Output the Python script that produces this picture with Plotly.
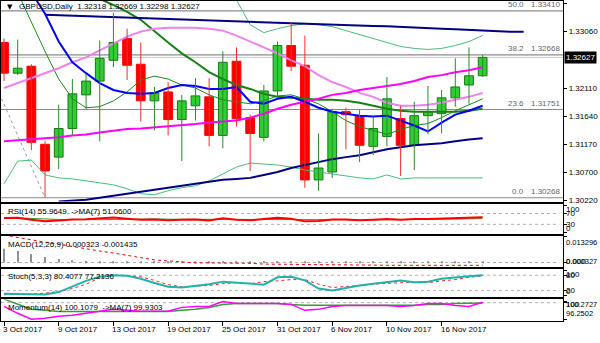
import plotly.graph_objects as go

W, H = 600, 343

# ---------------- data ----------------
date_idx = [0, 4, 8, 12, 16, 20, 24, 28, 32]
date_labels = ["3 Oct 2017", "9 Oct 2017", "13 Oct 2017", "19 Oct 2017", "25 Oct 2017",
               "31 Oct 2017", "6 Nov 2017", "10 Nov 2017", "16 Nov 2017"]

opens = [1.32877, 1.32362, 1.32479, 1.31166, 1.30951, 1.31432, 1.31997, 1.32229, 1.32578, 1.32944,
         1.32512, 1.31897, 1.32047, 1.31582, 1.31814, 1.31964, 1.31316, 1.32562, 1.31615, 1.31283,
         1.32063, 1.32827, 1.32495, 1.30568, 1.30701, 1.31715, 1.31648, 1.31133, 1.31299, 1.31598,
         1.31150, 1.31648, 1.31681, 1.31947, 1.32163, 1.32318]
highs = [1.32944, 1.32927, 1.32512, 1.31216, 1.31831, 1.32263, 1.32346, 1.32911, 1.33376, 1.33110,
         1.32877, 1.32130, 1.32213, 1.31997, 1.32279, 1.32279, 1.32728, 1.32794, 1.31665, 1.32163,
         1.32894, 1.33210, 1.32994, 1.31349, 1.31764, 1.31781, 1.31748, 1.31632, 1.32296, 1.31814,
         1.31881, 1.32146, 1.32080, 1.32612, 1.32794, 1.32669]
lows = [1.32229, 1.32329, 1.31067, 1.30268, 1.30751, 1.31316, 1.31748, 1.31216, 1.32462, 1.32246,
        1.31548, 1.31399, 1.31316, 1.30884, 1.31565, 1.31133, 1.31100, 1.31465, 1.30718, 1.31216,
        1.31980, 1.32396, 1.30436, 1.30386, 1.30602, 1.31083, 1.30867, 1.30984, 1.31133, 1.30635,
        1.30735, 1.31333, 1.31349, 1.31798, 1.31847, 1.32298]
closes = [1.32362, 1.32445, 1.31200, 1.30718, 1.31432, 1.32014, 1.32229, 1.32612, 1.32877, 1.32495,
          1.31897, 1.32030, 1.31582, 1.31897, 1.31980, 1.31316, 1.32545, 1.31598, 1.31349, 1.32063,
          1.32827, 1.32479, 1.30568, 1.30768, 1.31715, 1.31665, 1.31150, 1.31432, 1.31930, 1.31150,
          1.31648, 1.31715, 1.31947, 1.32130, 1.32318, 1.32627]

ma_fast_blue = [1.34505, 1.34090, 1.33724, 1.33359, 1.32894, 1.32545, 1.32362, 1.32196, 1.32080, 1.32030,
                1.32014, 1.32030, 1.32113, 1.32163, 1.32146, 1.32097, 1.32097, 1.32130, 1.31881, 1.31847,
                1.31931, 1.31964, 1.31881, 1.31781, 1.31715, 1.31681, 1.31648, 1.31632, 1.31648, 1.31565,
                1.31482, 1.31382, 1.31532, 1.31665, 1.31731, 1.31814]
ma_thin_green = [1.34206, 1.33708, 1.33226, 1.32728, 1.32263, 1.31931, 1.31781, 1.31798, 1.31897, 1.32047,
                 1.32246, 1.32313, 1.32263, 1.32163, 1.32113, 1.31997, 1.31914, 1.31881, 1.31847, 1.31897,
                 1.31980, 1.31997, 1.31931, 1.31847, 1.31715, 1.31565, 1.31465, 1.31399, 1.31333, 1.31416,
                 1.31482, 1.31515, 1.31615, 1.31731, 1.31831, 1.31931]
bb_mid = [None, None, None, None, None, 1.33841, 1.33724, 1.33608, 1.33508, 1.33392,
          1.33259, 1.33060, 1.32877, 1.32695, 1.32545, 1.32379, 1.32263, 1.32163, 1.32097, 1.32014,
          1.31964, 1.31947, 1.31931, 1.31914, 1.31914, 1.31897, 1.31864, 1.31814, 1.31764, 1.31731,
          1.31715, 1.31715, 1.31715, 1.31715, 1.31731, 1.31764]
bb_upper = [None] * 14 + [1.34588, 1.34256, 1.33924, 1.33592, 1.33176, 1.33043, 1.33110, 1.33160,
                          1.33193, 1.33176, 1.33143, 1.33077, 1.33010, 1.32944, 1.32877, 1.32811,
                          1.32778, 1.32761, 1.32778, 1.32827, 1.32894, 1.32994]
bb_lower = [1.30502, 1.30884, 1.30901, 1.30652, 1.30602, 1.30585, 1.30552, 1.30519, 1.30485, 1.30419,
            1.30336, 1.30319, 1.30386, 1.30436, 1.30469, 1.30552, 1.30668, 1.30784, 1.30851, 1.30834,
            1.30818, 1.30784, 1.30735, 1.30701, 1.30668, 1.30635, 1.30602, 1.30585, 1.30652, 1.30585,
            1.30602, 1.30602, 1.30602, 1.30602, 1.30602, 1.30602]
ma_violet = [1.32113, 1.32196, 1.32279, 1.32362, 1.32445, 1.32545, 1.32628, 1.32744, 1.32861, 1.32977,
             1.33060, 1.33110, 1.33126, 1.33126, 1.33126, 1.33110, 1.33077, 1.32994, 1.32894, 1.32794,
             1.32695, 1.32578, 1.32479, 1.32329, 1.32213, 1.32130, 1.32030, 1.31964, 1.31864, 1.31814,
             1.31814, 1.31831, 1.31864, 1.31914, 1.31964, 1.32030]
ma_magenta = [1.31216, 1.31233, 1.31250, 1.31266, 1.31283, 1.31316, 1.31333, 1.31366, 1.31399, 1.31424,
              1.31432, 1.31449, 1.31465, 1.31482, 1.31507, 1.31532, 1.31548, 1.31565, 1.31615, 1.31681,
              1.31764, 1.31831, 1.31881, 1.31931, 1.31997, 1.32030, 1.32080, 1.32113, 1.32146, 1.32180,
              1.32229, 1.32296, 1.32329, 1.32379, 1.32412, 1.32462]
ma_navy_low = [None, None, None, None, 1.30203, 1.30220, 1.30236, 1.30270, 1.30303, 1.30336,
               1.30369, 1.30402, 1.30436, 1.30469, 1.30502, 1.30535, 1.30569, 1.30585, 1.30602, 1.30652,
               1.30701, 1.30768, 1.30818, 1.30867, 1.30917, 1.30951, 1.30984, 1.31034, 1.31083, 1.31117,
               1.31150, 1.31166, 1.31183, 1.31216, 1.31249, 1.31266]
# shifted moving average (drawn 3 bars forward)
ma_navy_top_shift = 3
ma_navy_top = [1.33342, 1.33334, 1.33326, 1.33317, 1.33309, 1.33301, 1.33293, 1.33284, 1.33276, 1.33268,
               1.33259, 1.33251, 1.33243, 1.33234, 1.33226, 1.33218, 1.33210, 1.33201, 1.33193, 1.33188,
               1.33183, 1.33176, 1.33170, 1.33163, 1.33156, 1.33151, 1.33143, 1.33135, 1.33126, 1.33110,
               1.33098, 1.33088, 1.33077, 1.33068, 1.33060, 1.33060]

fib_names = ["0.0", "23.6", "38.2", "50.0"]
fib_prices = [1.30268, 1.31751, 1.32668, 1.33410]
fib_anchor_hi = (-9, 1.36552)
fib_anchor_lo = (3, 1.30268)

price_ticks = [1.33530, 1.33060, 1.32110, 1.31640, 1.31170, 1.30700, 1.30220]

rsi = [53, 54, 47, 41, 44, 48, 49, 52, 55, 51, 47, 48, 45, 47, 48, 44, 52, 47, 45, 50,
       54, 51, 41, 42, 48, 48, 45, 47, 50, 47, 50, 50, 51, 53, 54, 55.96]
rsi_ma = [55, 54, 52, 50, 48, 47, 47, 47, 48, 49, 50, 50, 49, 49, 48, 47, 48, 48, 47, 47,
          48, 49, 48, 47, 47, 47, 46, 46, 46, 47, 47, 48, 49, 50, 51, 51.06]

macd_main = [0.0070, 0.0058, 0.0043, 0.0028, 0.0018, 0.0012, 0.0008, 0.0006, 0.0005, 0.0004,
             0.0004, 0.0003, 0.0003, 0.0003, 0.0004, 0.0004, 0.0005, 0.0004, 0.0004, 0.0004,
             0.0005, 0.0006, 0.0005, 0.0004, 0.0005, 0.0006, 0.0005, 0.0006, 0.0004, 0.0004,
             0.0005, 0.0004, 0.0005, 0.0004, 0.0004, 0.000323]
macd_signal = [0.0138, 0.0126, 0.0113, 0.0103, 0.0093, 0.0081, 0.0068, 0.0058, 0.0048, 0.0036,
               0.0023, 0.0013, 0.0008, 0.0003, -0.0002, -0.0002, -0.0002, -0.0003, -0.0004, -0.0008,
               -0.0009, -0.0010, -0.0011, -0.0012, -0.0012, -0.0013, -0.0013, -0.0013, -0.0014, -0.0014,
               -0.0014, -0.0014, -0.0014, -0.0014, -0.0014, -0.001435]

stoch_main = [8, 7, 5, 5, 14, 35, 58, 74, 80, 78, 66, 50, 35, 32, 38, 45, 55, 51, 47, 43,
              72, 74, 60, 28, 20, 30, 40, 47, 53, 59, 53, 55, 66, 72, 76, 80.41]
stoch_sig = [4, 5, 6, 10, 16, 28, 45, 70, 80, 78, 74, 60, 43, 35, 38, 40, 47, 51, 47, 55,
             58, 63, 63, 45, 32, 35, 40, 45, 49, 51, 51, 51, 58, 63, 72, 77.21]

mom = [99.15, 97.59, 96.25, 96.47, 96.92, 97.14, 97.59, 98.04, 98.48, 98.26, 98.04, 98.04, 98.04,
       98.93, 99.15, 99.15, 100.27, 99.82, 99.82, 99.82, 99.82, 99.60, 98.26, 98.48, 99.15, 99.38,
       99.38, 99.38, 99.38, 99.15, 99.38, 99.82, 99.82, 99.38, 99.15, 100.11]
mom_ma = [100.8, 99.6, 98.5, 98.3, 98.0, 98.0, 98.0, 98.0, 98.0, 98.0, 98.0, 98.0, 98.0, 98.3,
          98.5, 98.9, 99.6, 99.8, 99.8, 99.8, 99.8, 99.6, 99.4, 99.4, 99.4, 99.4, 99.4, 99.4,
          99.4, 99.4, 99.4, 99.6, 99.6, 99.8, 99.9, 99.93]

# right-hand scale labels of the indicator windows (text, pixel row)
sub_labels = [("100", 212), ("70", 216), ("30", 227), ("0", 231),
              ("0.013296", 245), ("0.000327", 265), ("0.000", 265),
              ("100", 278), ("80", 279), ("20", 294), ("0", 295),
              ("100.2727", 308), ("100", 308), ("96.2502", 317)]

header = "GBPUSD,Daily  1.32318 1.32669 1.32298 1.32627"
bid = closes[-1]

# ---------------- layout helpers ----------------
n = len(opens)
bars = list(range(n))
XR = [-0.22, 40.88]
XDOM = [0, 563 / W]


def dom(top, bot):
    return [1 - bot / H, 1 - top / H]


def py(p):
    return 1 - p / H


FONT = "Liberation Sans, Arial, sans-serif"
fig = go.Figure()


def line(xs, ys, color, width, dash=None, ax=("x", "y")):
    fig.add_trace(go.Scatter(x=xs, y=ys, mode="lines", line=dict(color=color, width=width, dash=dash),
                             xaxis=ax[0], yaxis=ax[1], hoverinfo="skip", connectgaps=False))


# fib retracement
for p in fib_prices:
    fig.add_shape(type="line", xref="x", yref="y", x0=XR[0], x1=XR[1], y0=p, y1=p,
                  line=dict(color="#8a8a8a", width=1.2), layer="below")
fig.add_shape(type="line", xref="x", yref="y", x0=XR[0], x1=XR[1], y0=bid, y1=bid,
              line=dict(color="#c8c8c8", width=1), layer="below")
fig.add_trace(go.Scatter(x=[fib_anchor_hi[0], fib_anchor_lo[0]], y=[fib_anchor_hi[1], fib_anchor_lo[1]],
                         mode="lines", line=dict(color="#9a9a9a", width=1, dash="dot"),
                         xaxis="x", yaxis="y", hoverinfo="skip"))

line(bars, bb_lower, "#4cbb7a", 1)
line(bars, bb_upper, "#4cbb7a", 1)
line(bars, ma_thin_green, "#1a8a1a", 1)
line(bars, bb_mid, "#168016", 2)
line(bars, ma_violet, "#ee82ee", 2)
line(bars, ma_magenta, "#ff00ff", 2)
line([b + ma_navy_top_shift for b in bars], ma_navy_top, "#000080", 2)
line(bars, ma_navy_low, "#000080", 2)
line(bars, ma_fast_blue, "#0000ff", 2)

# candles: wicks then bodies
for up in (True, False):
    wx, wy = [], []
    for i in bars:
        if (closes[i] >= opens[i]) == up:
            wx += [i, i, None]
            wy += [lows[i], highs[i], None]
    fig.add_trace(go.Scatter(x=wx, y=wy, mode="lines",
                             line=dict(color="#2a8a2a" if up else "#ee3030", width=1),
                             xaxis="x", yaxis="y", hoverinfo="skip"))
for up in (True, False):
    idx = [i for i in bars if (closes[i] >= opens[i]) == up]
    base = [min(opens[i], closes[i]) for i in idx]
    hgt = [max(abs(closes[i] - opens[i]), 0.00006) for i in idx]
    fig.add_trace(go.Bar(x=idx, y=hgt, base=base, width=0.64,
                         marker=dict(color="#32cd32" if up else "#ff0000",
                                     line=dict(color="#157815" if up else "#ff0000", width=1)),
                         xaxis="x", yaxis="y", hoverinfo="skip"))

# ---------------- RSI ----------------
line(bars, rsi_ma, "#2e9a2e", 1, ax=("x2", "y2"))
line(bars, rsi, "#ff0000", 2, ax=("x2", "y2"))

# ---------------- MACD ----------------
fig.add_trace(go.Bar(x=bars, y=macd_main, width=0.08, marker=dict(color="#909090", line=dict(width=0)),
                     xaxis="x3", yaxis="y3", hoverinfo="skip"))
line(bars, macd_signal, "#ff0000", 1, dash="dot", ax=("x3", "y3"))

# ---------------- Stochastic ----------------
line(bars, stoch_sig, "#ff2020", 1, dash="dot", ax=("x4", "y4"))
line(bars, stoch_main, "#20b2aa", 2, ax=("x4", "y4"))

# ---------------- Momentum ----------------
line(bars, mom_ma, "#3a9a3a", 1.5, ax=("x5", "y5"))
line(bars, mom, "#ff00ff", 1.5, ax=("x5", "y5"))

# level lines
levels = [("y2", 70), ("y2", 30), ("y3", 0), ("y4", 80), ("y4", 20), ("y5", 100)]
for yr, v in levels:
    fig.add_shape(type="line", xref="x", yref=yr, x0=XR[0], x1=40.6, y0=v, y1=v,
                  line=dict(color="#b0b0b0", width=1, dash="dot"), layer="below")

panels = [
    ("", (1, 204), [1.30203, 1.33575], price_ticks, ["%.5f" % v for v in price_ticks]),
    ("2", (206, 237), [-6.4, 106.4], [100, 70, 30, 0], None),
    ("3", (239, 270), [-0.0022, 0.0133], [0.013296, 0.0], None),
    ("4", (272, 301), [-7.1, 105.2], [100, 80, 20, 0], None),
    ("5", (303, 325), [95.8, 100.72], [100.2727, 100, 96.2502], None),
]
lay = {}
for k, (suf, (t, b), rng, tv, tt) in enumerate(panels):
    xa = "xaxis" + suf
    ya = "yaxis" + suf
    lay[xa] = dict(domain=XDOM, range=XR, anchor="y" + suf, showgrid=False, zeroline=False,
                   showline=True, mirror=True, linecolor="black", linewidth=1,
                   showticklabels=False, ticks="outside" if suf == "5" else "",
                   tickvals=date_idx, ticklen=4, tickcolor="black", fixedrange=True)
    if suf:
        lay[xa]["matches"] = "x"
    lay[ya] = dict(domain=dom(t, b), range=rng, anchor="x" + suf, side="right", showgrid=False,
                   zeroline=False, showline=True, mirror=True, linecolor="black", linewidth=1,
                   ticks="outside", ticklen=3, tickcolor="black", tickvals=tv,
                   showticklabels=tt is not None,
                   tickfont=dict(family=FONT, size=8, color="black"), fixedrange=True)
    if tt is not None:
        lay[ya]["ticktext"] = tt

ann = []
# header
ann.append(dict(xref="paper", yref="paper", x=4 / W, y=py(7), text="▼", showarrow=False,
                xanchor="left", yanchor="middle", font=dict(family="DejaVu Sans", size=7, color="black")))
ann.append(dict(xref="paper", yref="paper", x=16 / W, y=py(7), text=header, showarrow=False,
                xanchor="left", yanchor="middle", font=dict(family=FONT, size=8, color="black")))
# fib labels
for nm, p in zip(fib_names, fib_prices):
    ann.append(dict(xref="paper", yref="y", x=526 / W, y=p, text=nm, showarrow=False, xanchor="right",
                    yanchor="bottom", font=dict(family=FONT, size=8, color="#666666")))
    ann.append(dict(xref="paper", yref="y", x=562 / W, y=p, text="%.5f" % p, showarrow=False,
                    xanchor="right", yanchor="bottom", font=dict(family=FONT, size=8, color="#666666")))
# current price box
ann.append(dict(xref="paper", yref="y", x=564 / W, y=bid, text="%.5f" % bid, showarrow=False,
                xanchor="left", yanchor="middle", bgcolor="black", borderpad=1,
                font=dict(family=FONT, size=8, color="white")))
# indicator window scale labels
for tx, yy in sub_labels:
    ann.append(dict(xref="paper", yref="paper", x=565 / W, y=py(yy), text=tx, showarrow=False,
                    xanchor="left", yanchor="middle", borderpad=0,
                    font=dict(family=FONT, size=7.5 if len(tx) > 6 else 8, color="black")))
# panel titles
titles = [(214, "RSI(14) 55.9649  ->MA(7) 51.0600"), (247, "MACD(12,26,9) 0.000323 -0.001435"),
          (280, "Stoch(5,3,3) 80.4077 77.2136"), (311, "Momentum(14) 100.1079  ->MA(7) 99.9303")]
for yy, tx in titles:
    ann.append(dict(xref="paper", yref="paper", x=5 / W, y=py(yy), text=tx, showarrow=False,
                    xanchor="left", yanchor="middle", font=dict(family=FONT, size=8, color="black")))
# date labels
for i, lab in zip(date_idx, date_labels):
    ann.append(dict(xref="x5", yref="paper", x=i, y=py(333), text=lab, showarrow=False,
                    xanchor="left", yanchor="middle", xshift=-3,
                    font=dict(family=FONT, size=8, color="black")))

fig.update_layout(width=W, height=H, margin=dict(l=0, r=0, t=0, b=0), paper_bgcolor="white",
                  plot_bgcolor="white", showlegend=False, barmode="overlay", annotations=ann,
                  font=dict(family=FONT, size=8, color="black"), **lay)
fig.write_html("out.html", config={"displayModeBar": False})
